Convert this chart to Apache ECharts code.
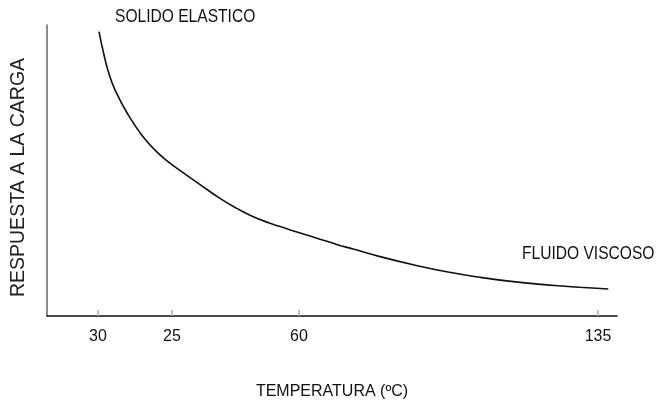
<!DOCTYPE html>
<html>
<head>
<meta charset="utf-8">
<script src="https://cdn.jsdelivr.net/npm/echarts@6/dist/echarts.min.js"></script>
<style>html,body{margin:0;padding:0;background:#fff}#c{width:670px;height:402px}</style>
</head>
<body>
<div id="c"></div>
<script>
// Position along the (schematic) temperature axis, 0..570
var curveX = [52.0, 56.3, 61.3, 68.0, 81.3, 94.7, 108.0, 121.3, 134.7, 151.3, 173.0, 189.7, 206.3, 223.0, 239.7, 256.3, 273.0, 289.7, 306.3, 333.0, 366.3, 399.7, 433.0, 466.3, 499.7, 533.0, 561.3];
// Response to load (relative, 0..100)
var curveY = [97.7, 90.8, 84.0, 77.7, 69.1, 62.2, 57.0, 53.0, 49.6, 45.6, 40.4, 37.0, 34.1, 31.9, 30.0, 28.2, 26.4, 24.6, 23.0, 20.4, 17.6, 15.2, 13.3, 11.8, 10.7, 9.9, 9.3];
var tickPositions = [51, 125, 252, 551];
var tickLabels = ['30', '25', '60', '135'];

var FONT = '"Liberation Sans", Arial, sans-serif';
var data = curveX.map(function (x, i) { return [x, curveY[i]]; });

var chart = echarts.init(document.getElementById('c'));
chart.setOption({
  animation: false,
  grid: { left: 47, right: 53, top: 25, bottom: 86, containLabel: false, outerBoundsMode: 'none' },
  xAxis: {
    type: 'value', min: 0, max: 570,
    name: 'TEMPERATURA (ºC)', nameLocation: 'middle', nameGap: 68,
    nameTextStyle: { fontFamily: FONT, fontSize: 16, color: '#111' },
    axisLine: { lineStyle: { color: '#111', width: 1.5 } },
    axisTick: { show: true, inside: true, length: 6, customValues: tickPositions, lineStyle: { color: '#aaa', width: 1.5 } },
    axisLabel: {
      customValues: tickPositions, margin: 13,
      fontFamily: FONT, fontSize: 16, color: '#111',
      formatter: function (v) { var i = tickPositions.indexOf(v); return i >= 0 ? tickLabels[i] : ''; }
    },
    splitLine: { show: false }
  },
  yAxis: {
    type: 'value', min: 0, max: 100,
    name: 'RESPUESTA A LA CARGA', nameLocation: 'middle', nameGap: 18, nameRotate: 90,
    nameTextStyle: { fontFamily: FONT, fontSize: 19.5, color: '#222', padding: [0, 14, 0, 0] },
    axisLine: { show: true, lineStyle: { color: '#666', width: 1.5 } },
    axisTick: { show: false }, axisLabel: { show: false }, splitLine: { show: false }
  },
  series: [{
    type: 'line', data: data, smooth: 0.5, showSymbol: false,
    lineStyle: { color: '#111', width: 1.6 }
  }],
  graphic: [
    { type: 'text', x: 115, y: 17, scaleX: 0.82,
      style: { text: 'SOLIDO ELASTICO', fontFamily: FONT, fontSize: 19, fill: '#111', align: 'left', verticalAlign: 'middle' } },
    { type: 'text', x: 522, y: 254, scaleX: 0.82,
      style: { text: 'FLUIDO VISCOSO', fontFamily: FONT, fontSize: 19, fill: '#111', align: 'left', verticalAlign: 'middle' } }
  ]
});
</script>
</body>
</html>
